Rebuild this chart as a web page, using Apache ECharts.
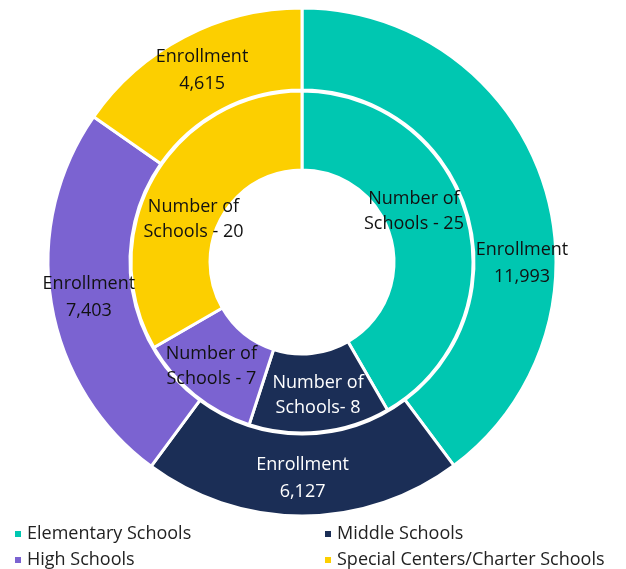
<!DOCTYPE html>
<html>
<head>
<meta charset="utf-8">
<script src="https://cdn.jsdelivr.net/npm/echarts@6/dist/echarts.min.js"></script>
<style>
  html, body { margin: 0; padding: 0; background: #fff; }
  #chart { width: 626px; height: 569px; }
</style>
</head>
<body>
<div id="chart"></div>
<script>
// school categories and their values
const categories = ['Elementary Schools', 'Middle Schools', 'High Schools', 'Special Centers/Charter Schools']
const enrollment = [11993, 6127, 7403, 4615]
const schoolCounts = [25, 8, 7, 20]
const enrollmentLabels = ['Enrollment\n11,993', 'Enrollment\n6,127', 'Enrollment\n7,403', 'Enrollment\n4,615']
const countLabels = ['Number of\nSchools - 25', 'Number of\nSchools- 8', 'Number of\nSchools - 7', 'Number of\nSchools - 20']

const colors = ['#00c7b1', '#1b2e56', '#7b63d1', '#fccf00']
const labelColors = ['#111', '#fff', '#111', '#111']
// nudges so labels sit where the original has them
const outerOffsets = [[15, 69], [0, 0], [0, 0], [0, 0]]
const innerOffsets = [[-18, -16], [2, 0], [-6, 0], [8, 25]]
// legend spots: two columns, two rows
const legendSpots = [[8, 520], [318, 520], [8, 546], [318, 546]]

const font = '"Open Sans", "Noto Sans", sans-serif'

const buildData = (values, labels, offsets) =>
  values.map((v, i) => ({
    name: categories[i],
    value: v,
    itemStyle: { color: colors[i] },
    label: {
      formatter: labels[i],
      color: labelColors[i],
      offset: offsets[i],
    },
  }))

const chart = echarts.init(document.getElementById('chart'))

const legends = categories.map((name, i) => ({
  left: legendSpots[i][0],
  top: legendSpots[i][1],
  data: [name],
  icon: 'rect',
  itemWidth: 8,
  itemHeight: 8,
  selectedMode: false,
  textStyle: { fontFamily: font, fontSize: 18, color: '#222' },
}))

chart.setOption({
  animation: false,
  legend: legends,
  series: [
    {
      name: 'Schools',
      type: 'pie',
      center: [302, 262],
      radius: [92, 171],
      startAngle: 90,
      clockwise: true,
      itemStyle: { borderColor: '#fff', borderWidth: 3 },
      label: {
        position: 'inside',
        fontFamily: font,
        fontSize: 18,
        lineHeight: 25,
      },
      labelLine: { show: false },
      emphasis: { disabled: true },
      data: buildData(schoolCounts, countLabels, innerOffsets),
    },
    {
      name: 'Enrollment',
      type: 'pie',
      center: [302, 262],
      radius: [172, 254],
      startAngle: 90,
      clockwise: true,
      itemStyle: { borderColor: '#fff', borderWidth: 3 },
      label: {
        position: 'inside',
        fontFamily: font,
        fontSize: 18,
        lineHeight: 27,
      },
      labelLine: { show: false },
      emphasis: { disabled: true },
      data: buildData(enrollment, enrollmentLabels, outerOffsets),
    },
  ],
})
</script>
</body>
</html>
